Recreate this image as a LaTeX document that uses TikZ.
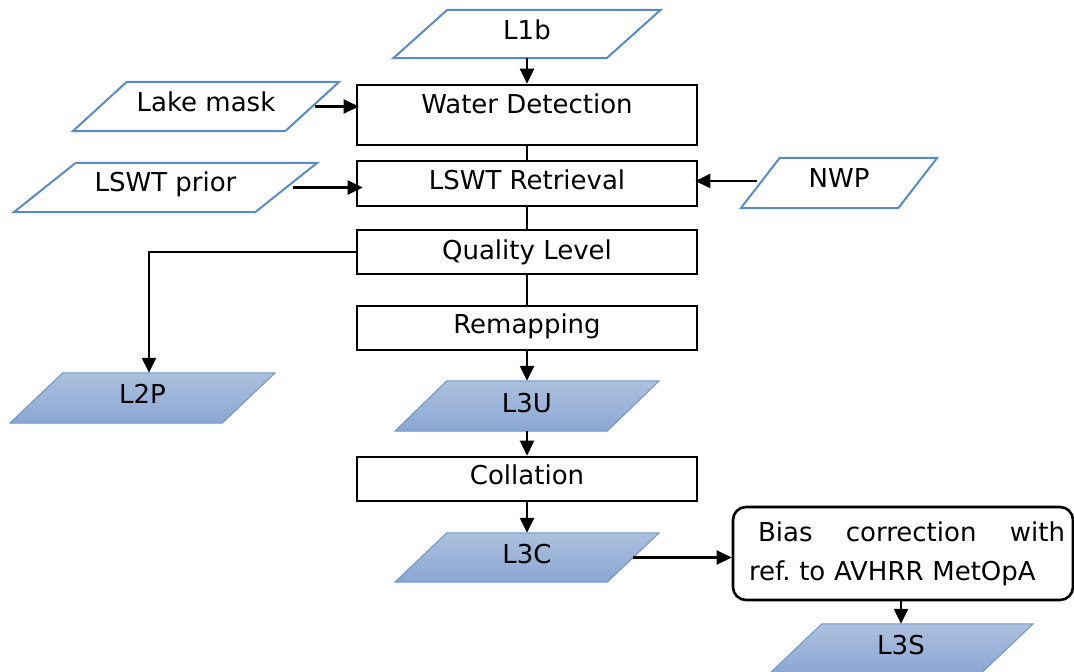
\documentclass[tikz,border=0pt]{standalone}
\usepackage{fontspec}
\setmainfont{DejaVu Sans}
\usetikzlibrary{arrows.meta,shadings}
\pgfdeclarelayer{bg}
\pgfsetlayers{bg,main}
\definecolor{inblue}{HTML}{5A8AC8}
\definecolor{outblue}{HTML}{7096CC}
\definecolor{outtop}{HTML}{ADC0DE}
\definecolor{outbot}{HTML}{8AA7D3}
\tikzset{
  proc/.style={draw, line width=2.6pt, minimum width=340pt, inner sep=0pt, text height=19pt},
  paranode/.style={inner sep=0pt, text height=19pt},
  inpara/.style={draw=inblue, line width=2pt, fill=white},
  outpara/.style={draw=outblue, line width=1pt, top color=outtop, bottom color=outbot},
  arr/.style={line width=2.4pt, -{Triangle[length=15pt,width=14pt]}},
  conn/.style={line width=2.4pt},
  biasbox/.style={draw, line width=2.6pt, rounded corners=13pt, minimum width=340pt, minimum height=93pt, inner sep=0pt, text width=308pt, align=left}
}
% name, x, y, width, height, half slant, style, text depth, text
\newcommand\paral[9]{%
  \node[paranode, minimum width=#4pt, minimum height=#5pt, text depth=#8pt] (#1) at (#2,#3) {#9};
  \begin{pgfonlayer}{bg}
    \path[#7] ([xshift=#6pt]#1.north west) -- ([xshift=#6pt]#1.north east)
      -- ([xshift=-#6pt]#1.south east) -- ([xshift=-#6pt]#1.south west) -- cycle;
  \end{pgfonlayer}}
\begin{document}
\begin{tikzpicture}[x=1pt,y=-1pt,font=\fontsize{26pt}{39pt}\selectfont]
\frenchspacing
\useasboundingbox (0,0) rectangle (1074,672);
\begin{pgfonlayer}{bg}
\fill[white] (0,0) rectangle (1074,672);
\end{pgfonlayer}

% process boxes
\node[proc, minimum height=60pt, text depth=22pt] (wd) at (527,115) {Water Detection};
\node[proc, minimum height=45pt, text depth=7pt] (ret) at (527,183.5) {LSWT Retrieval};
\node[proc, minimum height=44pt, text depth=5pt] (ql) at (527,252) {Quality Level};
\node[proc, minimum height=44pt, text depth=8pt] (rem) at (527,328) {Remapping};
\node[proc, minimum height=44pt, text depth=8pt] (col) at (527,479) {Collation};

% inputs
\paral{l1b}{527}{34}{213}{48}{27}{inpara}{9}{L1b}
\paral{lake}{206}{106.5}{212}{49}{27}{inpara}{10}{Lake mask}
\paral{prior}{165.5}{187.5}{241}{49}{31}{inpara}{12}{LSWT prior}
\paral{nwp}{839}{183}{157}{50}{19.5}{inpara}{11}{NWP}

% outputs
\paral{l2p}{142.5}{398}{212}{50}{26.5}{outpara}{9}{L2P}
\paral{l3u}{527}{406}{212}{50}{26}{outpara}{7}{L3U}
\paral{l3c}{527}{557.5}{212}{49}{26}{outpara}{8}{L3C}
\paral{l3s}{901}{649}{211}{50}{26.5}{outpara}{8}{L3S}

% bias correction
\node[biasbox] (bias) at (903,553.5)
  {\hspace*{9pt}\makebox[307pt][l]{Bias\hfill correction\hfill with}\\ref.\ to AVHRR MetOpA};

% connectors
\draw[arr] (l1b.south) -- (wd.north);
\draw[conn] (wd.south) -- (ret.north);
\draw[conn] (ret.south) -- (ql.north);
\draw[conn] (ql.south) -- (rem.north);
\draw[arr] ([xshift=3pt]lake.east) -- ([xshift=3pt]lake.east -| wd.west);
\draw[arr] ([xshift=7pt]prior.east) -- ([xshift=7pt]prior.east -| ret.west);
\draw[arr] ([xshift=-3pt,yshift=2pt]nwp.west) -- ([xshift=-3pt,yshift=2pt]nwp.west -| ret.east);
\draw[arr] (ql.west) -| ([xshift=6.5pt]l2p.north);
\draw[arr] (rem.south) -- (l3u.north);
\draw[arr] (l3u.south) -- (col.north);
\draw[arr] (col.south) -- (l3c.north);
\draw[arr] (l3c.east) -- (l3c.east -| bias.west);
\draw[arr] (bias.south -| l3s.north) -- (l3s.north);
\end{tikzpicture}
\end{document}
